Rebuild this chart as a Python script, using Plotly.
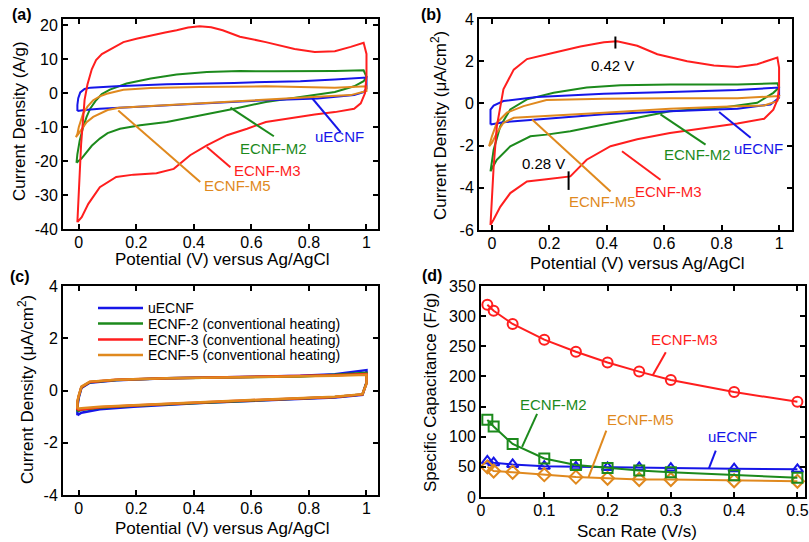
import plotly.graph_objects as go

W, H = 809, 542

# ---------------- Panel (a): CV, A/g ----------------
a_m3_fwd_E = [-0.005, 0.0, 0.008, 0.02, 0.03, 0.045, 0.06, 0.08, 0.11, 0.155, 0.2, 0.25, 0.3, 0.34, 0.38, 0.42, 0.46, 0.5, 0.56, 0.65, 0.75, 0.82, 0.89, 0.945, 0.99]
a_m3_fwd_I = [-38, -30, -15, -2, 2.5, 7, 9.7, 11.5, 13, 15, 16, 17, 17.8, 18.5, 19.3, 19.7, 19.4, 18.5, 16.6, 15, 13, 12.1, 12.3, 13.6, 14.8]
a_m3_rev_E = [1.0, 1.0, 0.995, 0.98, 0.957, 0.89, 0.82, 0.75, 0.65, 0.585, 0.515, 0.445, 0.387, 0.33, 0.27, 0.19, 0.13, 0.073, 0.033, 0.01, -0.005]
a_m3_rev_I = [11.5, 5, 0, -3, -4.6, -5.6, -6.3, -7.2, -8.5, -10.5, -12.4, -15.4, -18.3, -22.3, -23.6, -24, -24.7, -27.7, -32.6, -36.5, -38]

a_m2_fwd_E = [-0.008, -0.005, 0.003, 0.015, 0.027, 0.04, 0.06, 0.08, 0.108, 0.166, 0.25, 0.34, 0.445, 0.56, 0.68, 0.79, 0.89, 0.99]
a_m2_fwd_I = [-20.5, -18, -14, -10, -7, -4.5, -2.1, -0.3, 1, 2.8, 4.3, 5.5, 6.2, 6.5, 6.4, 6.4, 6.5, 6.7]
a_m2_rev_E = [1.0, 0.99, 0.957, 0.89, 0.77, 0.65, 0.54, 0.42, 0.306, 0.213, 0.143, 0.1, 0.073, 0.045, 0.027, 0.01, -0.008]
a_m2_rev_I = [4.8, 3.5, 2, 0.3, -1.1, -2.6, -4.6, -6.6, -8.5, -9.5, -10.5, -11.8, -13.4, -15.5, -17.4, -19.2, -20.5]

a_u_fwd_E = [-0.005, -0.005, -0.002, 0.005, 0.02, 0.04, 0.13, 0.306, 0.54, 0.77, 0.89, 1.0]
a_u_fwd_I = [-5.3, -3.5, -1.5, 0.2, 1.2, 1.6, 2.0, 2.6, 3.0, 3.5, 4.0, 4.6]
a_u_rev_E = [1.0, 1.0, 0.99, 0.957, 0.83, 0.65, 0.42, 0.19, 0.073, 0.02, 0.003, -0.005]
a_u_rev_I = [4.6, 1.3, 0.3, -0.6, -1.6, -2.1, -3.1, -3.9, -4.6, -5.0, -5.2, -5.3]

a_m5_fwd_E = [-0.01, -0.005, 0.0, 0.015, 0.03, 0.05, 0.075, 0.097, 0.155, 0.25, 0.42, 0.65, 0.89, 1.0]
a_m5_fwd_I = [-13, -12, -10, -6, -4, -2.1, -0.9, -0.2, 1.0, 1.5, 1.8, 2.0, 1.6, 2.0]
a_m5_rev_E = [1.0, 1.0, 0.945, 0.83, 0.65, 0.42, 0.19, 0.14, 0.1, 0.05, 0.027, 0.015, 0.003, -0.006, -0.01]
a_m5_rev_I = [2.0, 0.6, -0.6, -1.1, -1.9, -3.1, -3.9, -4.3, -5.0, -7.0, -8.6, -10.2, -11.5, -12.5, -13]

# ---------------- Panel (b): CV, uA/cm2 ----------------
b_m3_fwd_E = [-0.005, 0.0, 0.006, 0.017, 0.04, 0.076, 0.122, 0.215, 0.308, 0.39, 0.436, 0.506, 0.576, 0.68, 0.773, 0.855, 0.924, 0.994]
b_m3_fwd_I = [-5.76, -4.5, -3.0, -1.1, 0.67, 1.6, 2.1, 2.4, 2.7, 2.9, 2.94, 2.73, 2.33, 2.0, 1.8, 1.73, 1.86, 2.17]
b_m3_rev_E = [1.0, 1.0, 0.995, 0.98, 0.948, 0.855, 0.74, 0.62, 0.506, 0.413, 0.33, 0.273, 0.19, 0.122, 0.064, 0.029, 0.006, -0.005]
b_m3_rev_I = [1.7, 0.8, 0.2, -0.3, -0.73, -0.95, -1.16, -1.4, -1.7, -2.03, -2.67, -3.46, -3.6, -3.7, -4.25, -4.9, -5.5, -5.76]

b_m2_fwd_E = [-0.005, 0.006, 0.029, 0.064, 0.122, 0.215, 0.33, 0.448, 0.622, 0.855, 0.994]
b_m2_fwd_I = [-3.22, -2.2, -1.08, -0.29, 0.19, 0.5, 0.75, 0.86, 0.9, 0.9, 0.95]
b_m2_rev_E = [1.0, 0.98, 0.924, 0.8, 0.62, 0.506, 0.39, 0.273, 0.19, 0.134, 0.064, 0.017, -0.005]
b_m2_rev_I = [0.75, 0.5, 0.03, -0.2, -0.37, -0.68, -1.0, -1.32, -1.48, -1.56, -2.03, -2.67, -3.22]

b_u_fwd_E = [-0.005, -0.005, 0.006, 0.04, 0.157, 0.39, 0.622, 0.855, 1.0]
b_u_fwd_I = [-1.0, -0.29, -0.1, 0.11, 0.3, 0.46, 0.54, 0.63, 0.75]
b_u_rev_E = [1.0, 1.0, 0.97, 0.855, 0.62, 0.39, 0.157, 0.04, -0.005]
b_u_rev_I = [0.75, 0.27, -0.05, -0.25, -0.37, -0.52, -0.76, -0.89, -1.0]

b_m5_fwd_E = [-0.01, 0.0, 0.017, 0.052, 0.11, 0.19, 0.39, 0.622, 0.855, 0.994]
b_m5_fwd_I = [-2.03, -1.56, -0.92, -0.44, -0.13, 0.16, 0.22, 0.25, 0.24, 0.35]
b_m5_rev_E = [1.0, 0.994, 0.948, 0.8, 0.62, 0.39, 0.157, 0.076, 0.04, 0.017, 0.0, -0.01]
b_m5_rev_I = [0.35, 0.11, -0.1, -0.16, -0.25, -0.44, -0.6, -0.68, -0.92, -1.4, -1.87, -2.03]

# ---------------- Panel (c): CV, conventional heating ----------------
c_u_fwd_E = [-0.005, -0.005, 0.0, 0.009, 0.038, 0.13, 0.306, 0.54, 0.77, 0.89, 1.0]
c_u_fwd_I = [-0.95, -0.6, -0.27, 0.1, 0.3, 0.39, 0.47, 0.52, 0.56, 0.62, 0.78]
c_u_rev_E = [1.0, 1.0, 0.986, 0.89, 0.65, 0.42, 0.19, 0.073, 0.009, -0.005]
c_u_rev_I = [0.78, 0.3, -0.17, -0.27, -0.37, -0.48, -0.62, -0.72, -0.85, -0.95]

c_2_fwd_E = [-0.005, -0.005, 0.0, 0.009, 0.038, 0.13, 0.306, 0.54, 0.77, 0.89, 1.0]
c_2_fwd_I = [-0.8, -0.5, -0.22, 0.12, 0.32, 0.4, 0.47, 0.51, 0.54, 0.6, 0.68]
c_2_rev_E = [1.0, 1.0, 0.986, 0.89, 0.65, 0.42, 0.19, 0.073, 0.009, -0.005]
c_2_rev_I = [0.68, 0.3, -0.15, -0.25, -0.36, -0.46, -0.58, -0.66, -0.74, -0.8]

c_3_fwd_E = [-0.005, -0.005, 0.0, 0.009, 0.038, 0.13, 0.306, 0.54, 0.77, 0.89, 1.0]
c_3_fwd_I = [-0.75, -0.45, -0.2, 0.13, 0.33, 0.41, 0.47, 0.51, 0.54, 0.58, 0.63]
c_3_rev_E = [1.0, 1.0, 0.986, 0.89, 0.65, 0.42, 0.19, 0.073, 0.009, -0.005]
c_3_rev_I = [0.63, 0.28, -0.15, -0.25, -0.35, -0.45, -0.57, -0.64, -0.71, -0.75]

c_5_fwd_E = [-0.005, -0.005, 0.0, 0.009, 0.038, 0.13, 0.306, 0.54, 0.77, 0.89, 1.0]
c_5_fwd_I = [-0.7, -0.42, -0.18, 0.15, 0.34, 0.41, 0.47, 0.5, 0.53, 0.56, 0.6]
c_5_rev_E = [1.0, 1.0, 0.986, 0.89, 0.65, 0.42, 0.19, 0.073, 0.009, -0.005]
c_5_rev_I = [0.6, 0.26, -0.14, -0.24, -0.34, -0.44, -0.56, -0.62, -0.68, -0.7]

c_names = ["uECNF", "ECNF-2 (conventional heating)", "ECNF-3 (conventional heating)",
           "ECNF-5 (conventional heating)"]

# ---------------- Panel (d): capacitance vs scan rate ----------------
scan_rate = [0.01, 0.02, 0.05, 0.1, 0.15, 0.2, 0.25, 0.3, 0.4, 0.5]
cap_m3 = [319, 309, 287, 261, 241, 223, 208, 194, 174, 158]
cap_m2 = [128, 117, 88, 64, 53, 48, 44, 41, 36, 32]
cap_u = [60, 57, 54, 51, 50, 49, 49, 48, 47, 46]
cap_m5 = [50, 43, 41, 37, 33, 31, 29, 29, 27, 26]

# ---------------- tick labels ----------------
cv_xticks = [0, 0.2, 0.4, 0.6, 0.8, 1]
cv_xlabels = ["0", "0.2", "0.4", "0.6", "0.8", "1"]
a_yticks = [20, 10, 0, -10, -20, -30, -40]
a_ylabels = ["20", "10", "0", "-10", "-20", "-30", "-40"]
b_yticks = [4, 2, 0, -2, -4, -6]
b_ylabels = ["4", "2", "0", "-2", "-4", "-6"]
c_yticks = [4, 2, 0, -2, -4]
c_ylabels = ["4", "2", "0", "-2", "-4"]
d_xticks = [0, 0.1, 0.2, 0.3, 0.4, 0.5]
d_xlabels = ["0", "0.1", "0.2", "0.3", "0.4", "0.5"]
d_yticks = [0, 50, 100, 150, 200, 250, 300, 350]
d_ylabels = ["0", "50", "100", "150", "200", "250", "300", "350"]

BLUE = "#1616e8"
GREEN = "#1c8a1c"
RED = "#ff1e1e"
ORANGE = "#e0891e"
FONT = "Liberation Sans, Arial, Helvetica, sans-serif"


def fx(px):
    return px / W


def fy(py):
    return 1 - py / H


fig = go.Figure()


def cv(fE, fI, rE, rI, color, xa, ya, name=None, width=2.0):
    fig.add_trace(go.Scatter(x=fE + rE, y=fI + rI, mode="lines",
                             line=dict(color=color, width=width),
                             xaxis=xa, yaxis=ya, name=name, showlegend=False))


# (a)
cv(a_m2_fwd_E, a_m2_fwd_I, a_m2_rev_E, a_m2_rev_I, GREEN, "x", "y")
cv(a_u_fwd_E, a_u_fwd_I, a_u_rev_E, a_u_rev_I, BLUE, "x", "y")
cv(a_m5_fwd_E, a_m5_fwd_I, a_m5_rev_E, a_m5_rev_I, ORANGE, "x", "y")
cv(a_m3_fwd_E, a_m3_fwd_I, a_m3_rev_E, a_m3_rev_I, RED, "x", "y")
# (b)
cv(b_m2_fwd_E, b_m2_fwd_I, b_m2_rev_E, b_m2_rev_I, GREEN, "x2", "y2")
cv(b_u_fwd_E, b_u_fwd_I, b_u_rev_E, b_u_rev_I, BLUE, "x2", "y2")
cv(b_m5_fwd_E, b_m5_fwd_I, b_m5_rev_E, b_m5_rev_I, ORANGE, "x2", "y2")
cv(b_m3_fwd_E, b_m3_fwd_I, b_m3_rev_E, b_m3_rev_I, RED, "x2", "y2")
# (c)
c_colors = [BLUE, GREEN, RED, ORANGE]
cv(c_u_fwd_E, c_u_fwd_I, c_u_rev_E, c_u_rev_I, BLUE, "x3", "y3", c_names[0], 2.5)
cv(c_2_fwd_E, c_2_fwd_I, c_2_rev_E, c_2_rev_I, GREEN, "x3", "y3", c_names[1], 2.5)
cv(c_3_fwd_E, c_3_fwd_I, c_3_rev_E, c_3_rev_I, RED, "x3", "y3", c_names[2], 2.5)
cv(c_5_fwd_E, c_5_fwd_I, c_5_rev_E, c_5_rev_I, ORANGE, "x3", "y3", c_names[3], 2.5)

# (d)
for vals, color, sym in [(cap_u, BLUE, "triangle-up-open"), (cap_m5, ORANGE, "diamond-open"),
                         (cap_m2, GREEN, "square-open"), (cap_m3, RED, "circle-open")]:
    fig.add_trace(go.Scatter(x=scan_rate, y=vals, mode="lines+markers",
                             line=dict(color=color, width=2),
                             marker=dict(symbol=sym, size=10, color=color, line=dict(width=2, color=color)),
                             xaxis="x4", yaxis="y4", showlegend=False, cliponaxis=False))

axis_common = dict(showline=True, linewidth=2, linecolor="black", mirror="ticks",
                   ticks="inside", ticklen=5, tickwidth=1.5, tickcolor="black",
                   showgrid=False, zeroline=False, tickfont=dict(size=16, color="black"),
                   tickmode="array", automargin=False)
xaxis_common = dict(axis_common, ticklabelstandoff=-2)

fig.update_layout(
    width=W, height=H, margin=dict(l=0, r=0, t=0, b=0, pad=0, autoexpand=False),
    paper_bgcolor="white", plot_bgcolor="white", showlegend=False,
    font=dict(family=FONT, size=17, color="black"),
    xaxis=dict(xaxis_common, domain=[fx(63), fx(378)], range=[-0.055, 1.04], anchor="y",
               tickvals=cv_xticks, ticktext=cv_xlabels),
    yaxis=dict(axis_common, domain=[fy(229), fy(19)], range=[-40, 21.8], anchor="x",
               tickvals=a_yticks, ticktext=a_ylabels),
    xaxis2=dict(xaxis_common, domain=[fx(479), fx(792)], range=[-0.045, 1.045], anchor="y2",
                tickvals=cv_xticks, ticktext=cv_xlabels),
    yaxis2=dict(axis_common, domain=[fy(230), fy(19)], range=[-6, 4], anchor="x2",
                tickvals=b_yticks, ticktext=b_ylabels),
    xaxis3=dict(xaxis_common, domain=[fx(63), fx(378)], range=[-0.055, 1.04], anchor="y3",
                tickvals=cv_xticks, ticktext=cv_xlabels),
    yaxis3=dict(axis_common, domain=[fy(495), fy(286)], range=[-4, 4], anchor="x3",
                tickvals=c_yticks, ticktext=c_ylabels),
    xaxis4=dict(xaxis_common, domain=[fx(481), fx(805)], range=[0, 0.512], anchor="y4",
                tickvals=d_xticks, ticktext=d_xlabels),
    yaxis4=dict(axis_common, domain=[fy(497), fy(286)], range=[0, 350], anchor="x4",
                tickvals=d_yticks, ticktext=d_ylabels),
)

annotations = []
shapes = []


def label(text, x, y, xr, yr, color, size=15):
    annotations.append(dict(text=text, x=x, y=y, xref=xr, yref=yr, showarrow=False,
                            font=dict(size=size, color=color), xanchor="center", yanchor="middle"))


def seg(x0, y0, x1, y1, xr, yr, color, width=2):
    shapes.append(dict(type="line", x0=x0, y0=y0, x1=x1, y1=y1, xref=xr, yref=yr,
                       line=dict(color=color, width=width)))


def paper_text(text, px, py, size=17, angle=0, bold=False, xanchor="center", color="black"):
    annotations.append(dict(text=("<b>%s</b>" % text) if bold else text, x=fx(px), y=fy(py),
                            xref="paper", yref="paper", showarrow=False, textangle=angle,
                            font=dict(size=size, color=color), xanchor=xanchor, yanchor="middle"))


# (a) labels
seg(0.812, -1.6, 0.91, -11.5, "x", "y", BLUE)
label("uECNF", 0.905, -12.9, "x", "y", BLUE)
seg(0.527, -4.3, 0.678, -12.7, "x", "y", GREEN)
label("ECNF-M2", 0.676, -16.4, "x", "y", GREEN)
seg(0.445, -15.9, 0.527, -21.8, "x", "y", RED)
label("ECNF-M3", 0.655, -22.8, "x", "y", RED)
seg(0.137, -5.1, 0.422, -26.2, "x", "y", ORANGE)
label("ECNF-M5", 0.55, -27.2, "x", "y", ORANGE)

# (b) labels
seg(0.43, 3.17, 0.43, 2.6, "x2", "y2", "black")
label("0.42 V", 0.419, 1.78, "x2", "y2", "black")
seg(0.267, -3.22, 0.267, -4.1, "x2", "y2", "black")
label("0.28 V", 0.18, -2.86, "x2", "y2", "black")
seg(0.791, -0.41, 0.901, -1.63, "x2", "y2", BLUE)
label("uECNF", 0.93, -2.16, "x2", "y2", BLUE)
seg(0.587, -0.52, 0.744, -1.95, "x2", "y2", GREEN)
label("ECNF-M2", 0.715, -2.43, "x2", "y2", GREEN)
seg(0.453, -2.27, 0.587, -3.62, "x2", "y2", RED)
label("ECNF-M3", 0.616, -4.17, "x2", "y2", RED)
seg(0.14, -0.76, 0.413, -4.17, "x2", "y2", ORANGE)
label("ECNF-M5", 0.384, -4.65, "x2", "y2", ORANGE)

# (c) legend (key lines + names)
legend_rows_px = [308, 323.5, 339.5, 355]
for name, color, py in zip(c_names, c_colors, legend_rows_px):
    shapes.append(dict(type="line", x0=fx(98), x1=fx(143), y0=fy(py), y1=fy(py),
                       xref="paper", yref="paper", line=dict(color=color, width=2.5)))
    paper_text(name, 146, py, size=14, xanchor="left")

# (d) labels
seg(0.292, 240, 0.271, 201, "x4", "y4", RED)
label("ECNF-M3", 0.321, 262, "x4", "y4", RED)
seg(0.0886, 138, 0.0649, 83, "x4", "y4", GREEN)
label("ECNF-M2", 0.115, 154, "x4", "y4", GREEN)
seg(0.198, 110, 0.170, 33, "x4", "y4", ORANGE)
label("ECNF-M5", 0.252, 128, "x4", "y4", ORANGE)
seg(0.371, 77, 0.360, 47, "x4", "y4", BLUE)
label("uECNF", 0.397, 100, "x4", "y4", BLUE)

# axis titles
paper_text("Potential (V) versus Ag/AgCl", 222, 260)
paper_text("Potential (V) versus Ag/AgCl", 637, 263.5)
paper_text("Potential (V) versus Ag/AgCl", 222, 528.5)
paper_text("Scan Rate (V/s)", 637, 531)
paper_text("Current Density (A/g)", 20, 121, angle=-90)
paper_text("Current Density (\u03bcA/cm<sup>2</sup>)", 439, 126, angle=-90)
paper_text("Current Density (\u03bcA/cm<sup>2</sup>)", 26, 390, angle=-90)
paper_text("Specific Capacitance (F/g)", 430, 393, angle=-90)

# panel letters
paper_text("(a)", 22, 15, size=16, bold=True)
paper_text("(b)", 431, 15, size=16, bold=True)
paper_text("(c)", 20, 276, size=16, bold=True)
paper_text("(d)", 432, 275, size=16, bold=True)

fig.update_layout(annotations=annotations, shapes=shapes)
fig.write_html("out.html", config={"displayModeBar": False},
               post_script="document.body.style.margin='0';document.body.style.padding='0';")
